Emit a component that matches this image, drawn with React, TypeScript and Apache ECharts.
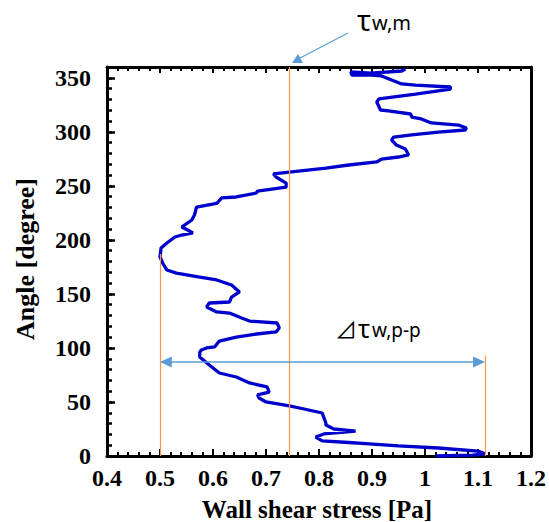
import React, { useEffect, useRef } from "react";
import * as echarts from "echarts";

// Wall shear stress profile (x: stress [Pa], y: angle [degree]) in drawing order
const angleDeg = [
  0, 0.8, 2, 4.6, 7.4, 9.3, 11.5, 12.5, 14, 17.6, 20.4, 23.1, 25, 28.7, 30.5, 39.8, 43.5, 46.3,
  50, 53.7, 56.5, 59.2, 63.9, 67.6, 73.1, 76.8, 84.2, 91.6, 96, 98.1, 100, 100.9, 106.4, 110.1,
  112.9, 114.8, 118.5, 123.1, 124.9, 127.7, 132.3, 133.3, 137.9, 141.6, 142.5, 147.1, 151.8,
  158.2, 162.9, 165.6, 169.3, 172.1, 178.6, 184.2, 192.5, 197.1, 202.7, 204.5, 206.4, 209.1,
  211.9, 218.4, 223, 230.4, 233.2, 234.1, 238.8, 239.7, 243.4, 245.2, 248.9, 252.6, 258.2, 261,
  262.8, 266.5, 269.3, 272.1, 274.8, 276.7, 278.6, 284.1, 287.8, 292.4, 295.2, 297.1, 299.8,
  301.7, 303.5, 306.3, 308.2, 311.9, 313.7, 316.5, 319.3, 320.2, 327.6, 330.4, 335, 339.6, 341.5,
  343.3, 344.3, 348, 351.7, 352.6, 352.6, 355.4, 354.4, 356.3, 358.1,
];
const shearStress = [
  1.02, 1.09, 1.113, 1.1, 1.025, 0.95, 0.888, 0.856, 0.806, 0.794, 0.809, 0.869, 0.828, 0.813,
  0.813, 0.806, 0.772, 0.744, 0.7, 0.687, 0.684, 0.706, 0.702, 0.669, 0.644, 0.612, 0.593, 0.575,
  0.575, 0.578, 0.588, 0.603, 0.612, 0.644, 0.682, 0.719, 0.725, 0.721, 0.669, 0.654, 0.631,
  0.607, 0.588, 0.593, 0.631, 0.635, 0.65, 0.635, 0.607, 0.575, 0.531, 0.513, 0.505, 0.5, 0.502,
  0.513, 0.528, 0.541, 0.562, 0.552, 0.541, 0.56, 0.565, 0.569, 0.599, 0.608, 0.616, 0.644,
  0.682, 0.684, 0.738, 0.738, 0.719, 0.714, 0.744, 0.813, 0.856, 0.909, 0.918, 0.95, 0.969,
  0.963, 0.946, 0.937, 0.941, 0.975, 1.025, 1.076, 1.078, 1.063, 1.012, 0.993, 0.975, 0.973,
  0.931, 0.916, 0.909, 0.913, 0.982, 1.048, 1.048, 0.982, 0.956, 0.937, 0.918, 0.9, 0.862, 0.86,
  0.898, 0.956, 0.963,
];

// Annotation values
const meanStress = 0.744;
const minStress = 0.5;
const maxStress = 1.113;
const minLineTop = 187;
const maxLineTop = 93;
const rangeArrowAngle = 87;
const arrowInset = 0.011; // keeps the arrow tips on the min / max lines

const xMin = 0.4;
const xMax = 1.2;
const xStep = 0.1;
const yMin = 0;
const yMax = 360;
const yStep = 50;

export default function App() {
  const ref = useRef<HTMLDivElement>(null);

  useEffect(() => {
    const chart = echarts.init(ref.current!, null, { renderer: "svg" });
    const pts = shearStress.map((v, i) => [v, angleDeg[i]]);
    const serif = "'Liberation Serif', 'Times New Roman', serif";
    const sans = "'Noto Sans', 'Noto Sans CJK JP', sans-serif";
    const black = "#000";
    const orange = "#f79646";
    const lblue = "#5b9bd5";
    const tickFont = {
      fontFamily: serif,
      fontWeight: "bold" as const,
      fontSize: 24,
      color: black,
    };
    const frame = { show: true, onZero: false, lineStyle: { color: black, width: 3 } };

    const option: any = {
      animation: false,
      grid: { left: 107, right: 16, top: 67, bottom: 66, containLabel: false },
      xAxis: [
        {
          type: "value",
          min: xMin,
          max: xMax,
          interval: xStep,
          position: "bottom",
          axisLine: frame,
          axisTick: { show: true, inside: true, length: 7, lineStyle: { color: black, width: 2 } },
          minorTick: { show: true, splitNumber: 5, length: 4, lineStyle: { color: black, width: 2 } },
          splitLine: { show: false },
          minorSplitLine: { show: false },
          axisLabel: {
            ...tickFont,
            margin: 10,
            formatter: (v: number) => String(Math.round(v * 10) / 10),
          },
        },
        {
          type: "value",
          min: xMin,
          max: xMax,
          interval: xStep,
          position: "top",
          axisLine: frame,
          axisTick: { show: true, inside: true, length: 6, lineStyle: { color: black, width: 2 } },
          minorTick: { show: true, splitNumber: 5, length: 4, lineStyle: { color: black, width: 2 } },
          splitLine: { show: false },
          axisLabel: { show: false },
        },
      ],
      yAxis: [
        {
          type: "value",
          min: yMin,
          max: yMax,
          interval: yStep,
          position: "left",
          axisLine: frame,
          axisTick: { show: true, inside: true, length: 8, lineStyle: { color: black, width: 2.5 } },
          splitLine: { show: false },
          axisLabel: { ...tickFont, margin: 16, showMaxLabel: false },
        },
        {
          type: "value",
          min: yMin,
          max: yMax,
          interval: 10,
          position: "left",
          axisLine: { show: false },
          axisTick: { show: true, inside: true, length: 5, lineStyle: { color: black, width: 2.5 } },
          splitLine: { show: false },
          axisLabel: { show: false },
        },
        {
          type: "value",
          min: yMin,
          max: yMax,
          position: "right",
          axisLine: frame,
          axisTick: { show: false },
          splitLine: { show: false },
          axisLabel: { show: false },
        },
      ],
      series: [
        {
          type: "line",
          xAxisIndex: 0,
          yAxisIndex: 0,
          data: pts,
          showSymbol: false,
          symbol: "none",
          clip: false,
          silent: true,
          z: 3,
          lineStyle: { color: "#0000cc", width: 3.3 },
          markLine: {
            silent: true,
            symbol: ["none", "none"],
            label: { show: false },
            emphasis: { disabled: true },
            data: [
              [
                { coord: [minStress, yMin], lineStyle: { color: orange, width: 1.2, type: "solid" } },
                { coord: [minStress, minLineTop] },
              ],
              [
                { coord: [meanStress, yMin], lineStyle: { color: orange, width: 1.2, type: "solid" } },
                { coord: [meanStress, yMax] },
              ],
              [
                { coord: [maxStress, yMin], lineStyle: { color: orange, width: 1.2, type: "solid" } },
                { coord: [maxStress, maxLineTop] },
              ],
              [
                {
                  coord: [minStress + arrowInset, rangeArrowAngle],
                  symbol: "triangle",
                  symbolSize: [11, 12],
                  lineStyle: { color: lblue, width: 1.5, type: "solid" },
                },
                {
                  coord: [maxStress - arrowInset, rangeArrowAngle],
                  symbol: "triangle",
                  symbolSize: [11, 12],
                },
              ],
            ],
          },
        },
      ],
      graphic: [
        {
          type: "text",
          x: 317,
          y: 509,
          style: {
            text: "Wall shear stress [Pa]",
            fontFamily: serif,
            fontWeight: "bold",
            fontSize: 25,
            fill: black,
            align: "center",
            verticalAlign: "middle",
          },
        },
        {
          type: "text",
          x: 25,
          y: 259,
          rotation: Math.PI / 2,
          style: {
            text: "Angle [degree]",
            fontFamily: serif,
            fontWeight: "bold",
            fontSize: 26,
            fill: black,
            align: "center",
            verticalAlign: "middle",
          },
        },
        // tau_w,m label with arrow
        {
          type: "line",
          shape: { x1: 348, y1: 33, x2: 300, y2: 58 },
          style: { stroke: lblue, lineWidth: 1.2 },
        },
        {
          type: "polygon",
          shape: { points: [[292, 63], [303, 63], [298, 54]] },
          style: { fill: lblue },
        },
        {
          type: "text",
          x: 357,
          y: 19,
          style: { text: "τ", fontFamily: sans, fontSize: 29, fill: black, align: "left", verticalAlign: "middle" },
        },
        {
          type: "text",
          x: 372,
          y: 22,
          style: { text: "w,m", fontFamily: sans, fontSize: 20, fill: black, align: "left", verticalAlign: "middle" },
        },
        // delta tau_w,p-p label
        {
          type: "text",
          x: 335,
          y: 329,
          style: { text: "⊿", fontFamily: sans, fontSize: 22, fill: black, align: "left", verticalAlign: "middle" },
        },
        {
          type: "text",
          x: 358,
          y: 328,
          style: { text: "τ", fontFamily: sans, fontSize: 25, fill: black, align: "left", verticalAlign: "middle" },
        },
        {
          type: "text",
          x: 372,
          y: 330,
          style: { text: "w,p-p", fontFamily: sans, fontSize: 19, fill: black, align: "left", verticalAlign: "middle" },
        },
      ],
    };

    chart.setOption(option);
    return () => chart.dispose();
  }, []);

  return (
    <div
      ref={ref}
      style={{ position: "fixed", left: 0, top: 0, width: 549, height: 522, background: "#fff" }}
    />
  );
}
